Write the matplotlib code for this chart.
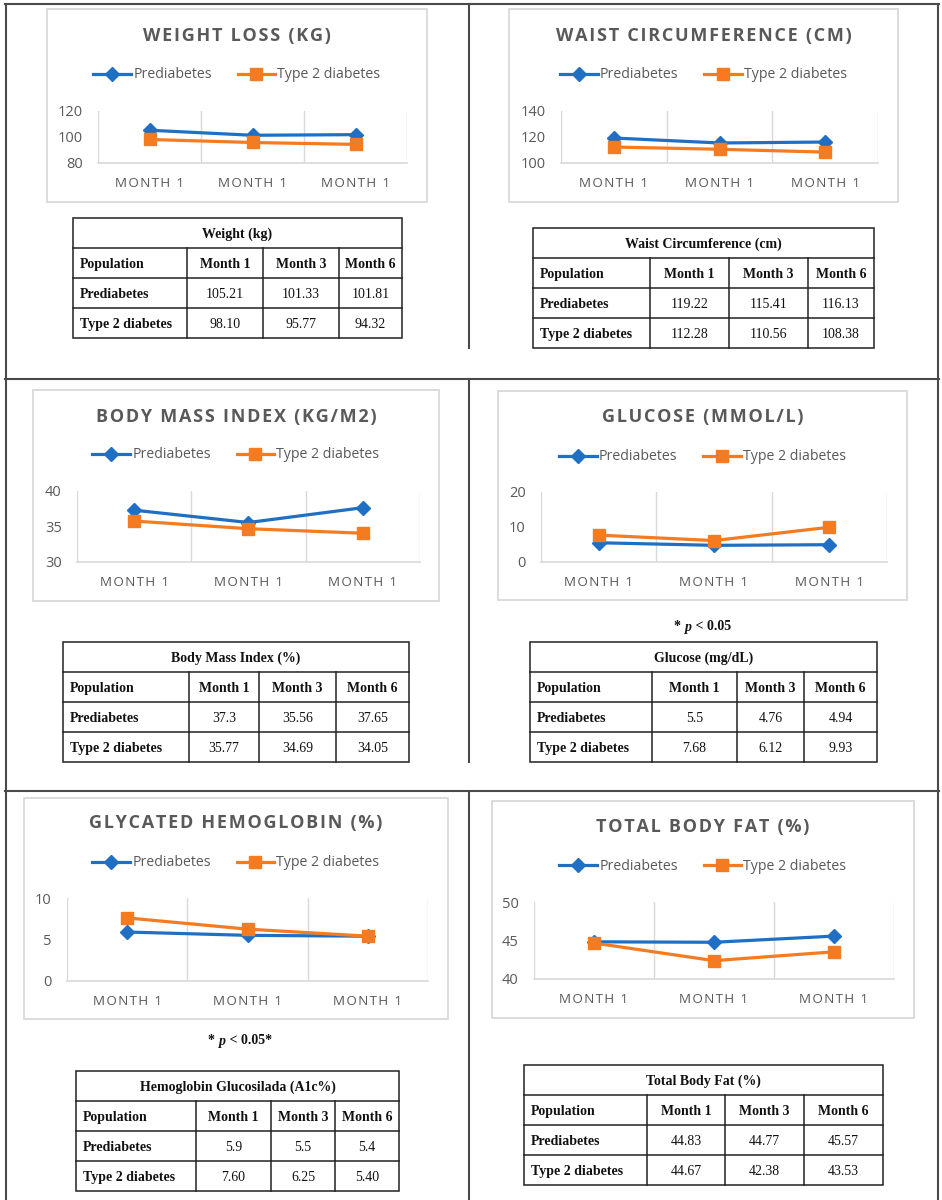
import matplotlib
matplotlib.use("Agg")
import matplotlib.pyplot as plt
from matplotlib.patches import Rectangle

# ---------------- data ----------------
months = ["Month 1", "Month 3", "Month 6"]
axis_labels = ["MONTH 1", "MONTH 1", "MONTH 1"]
series_names = ["Prediabetes", "Type 2 diabetes"]

chart_titles = ["WEIGHT LOSS (KG)", "WAIST CIRCUMFERENCE (CM)", "BODY MASS INDEX (KG/M2)",
                "GLUCOSE (MMOL/L)", "GLYCATED HEMOGLOBIN (%)", "TOTAL BODY FAT (%)"]
table_titles = ["Weight (kg)", "Waist Circumference (cm)", "Body Mass Index (%)",
                "Glucose (mg/dL)", "Hemoglobin Glucosilada (A1c%)", "Total Body Fat (%)"]

weight_pre = ["105.21", "101.33", "101.81"]
weight_t2 = ["98.10", "95.77", "94.32"]
waist_pre = ["119.22", "115.41", "116.13"]
waist_t2 = ["112.28", "110.56", "108.38"]
bmi_pre = ["37.3", "35.56", "37.65"]
bmi_t2 = ["35.77", "34.69", "34.05"]
glucose_pre = ["5.5", "4.76", "4.94"]
glucose_t2 = ["7.68", "6.12", "9.93"]
hba1c_pre = ["5.9", "5.5", "5.4"]
hba1c_t2 = ["7.60", "6.25", "5.40"]
fat_pre = ["44.83", "44.77", "45.57"]
fat_t2 = ["44.67", "42.38", "43.53"]

weight_yticks = [80, 100, 120]
waist_yticks = [100, 120, 140]
bmi_yticks = [30, 35, 40]
glucose_yticks = [0, 10, 20]
hba1c_yticks = [0, 5, 10]
fat_yticks = [40, 45, 50]

notes = [None, None, None, "* p < 0.05", "* p < 0.05*", None]

# ---------------- layout (pixels) ----------------
W, H = 942, 1200
fig = plt.figure(figsize=(W / 100, H / 100), dpi=100)
ov = fig.add_axes([0, 0, 1, 1])
ov.set_xlim(0, W)
ov.set_ylim(H, 0)
ov.axis("off")

BLUE = "#1F6FC4"
ORANGE = "#F47B20"
GRAY_TXT = "#595959"
GRID = "#D9D9D9"
SANS = ["Open Sans", "DejaVu Sans"]
SERIF = ["Liberation Serif", "DejaVu Serif"]


def spaced(s, sp="\u200a"):
    return sp.join(s)


# outer frame lines
bc = "#4a4a4a"
blw = 1.5
ov.plot([5, 939], [4, 4], color=bc, lw=blw)
ov.plot([6, 6], [4, 1200], color=bc, lw=blw)
ov.plot([938, 938], [4, 1200], color=bc, lw=blw)
ov.plot([5, 939], [379, 379], color=bc, lw=blw)
ov.plot([5, 939], [791, 791], color=bc, lw=blw)
for y0, y1 in [(4, 348), (379, 762), (791, 1200)]:
    ov.plot([469, 469], [y0, y1], color=bc, lw=blw)

layouts = [
    dict(frame=(47, 9, 427, 202), plot=(98, 111, 407, 163), title_y=36, legend_y=75,
         table=(73, 218, 402, 338), cols=(187, 263, 339), note_y=None),
    dict(frame=(509, 9, 898, 202), plot=(561, 111, 878, 163), title_y=36, legend_y=75,
         table=(533, 228, 874, 348), cols=(650, 729, 808), note_y=None),
    dict(frame=(33, 390, 439, 601), plot=(77, 491, 420, 562), title_y=417, legend_y=455,
         table=(63, 642, 409, 762), cols=(189, 259, 336), note_y=None),
    dict(frame=(498, 391, 907, 600), plot=(541, 492, 887, 562), title_y=417, legend_y=457,
         table=(530, 642, 877, 762), cols=(652, 737, 804), note_y=627),
    dict(frame=(24, 798, 448, 1019), plot=(67, 898, 428, 981), title_y=823, legend_y=863,
         table=(76, 1071, 399, 1191), cols=(196, 271, 335), note_y=1041),
    dict(frame=(492, 801, 914, 1018), plot=(534, 902, 894, 979), title_y=827, legend_y=866,
         table=(524, 1065, 883, 1185), cols=(647, 725, 804), note_y=None),
]

pre_data = [weight_pre, waist_pre, bmi_pre, glucose_pre, hba1c_pre, fat_pre]
t2_data = [weight_t2, waist_t2, bmi_t2, glucose_t2, hba1c_t2, fat_t2]
yticks_all = [weight_yticks, waist_yticks, bmi_yticks, glucose_yticks, hba1c_yticks, fat_yticks]

TFS = 10


def draw_table(L, T, R, B, cols, title, pre, t2):
    lc = "#222222"
    lw = 1.1
    rows = 4
    rh = (B - T) / rows
    ys = [T + i * rh for i in range(rows + 1)]
    ov.add_patch(Rectangle((L, T), R - L, B - T, fill=False, edgecolor=lc, lw=lw))
    for y in ys[1:-1]:
        ov.plot([L, R], [y, y], color=lc, lw=lw)
    for c in cols:
        ov.plot([c, c], [ys[1], B], color=lc, lw=lw)
    ov.text((L + R) / 2, (ys[0] + ys[1]) / 2, title, ha="center", va="center_baseline",
            fontsize=TFS, fontweight="bold", family=SERIF, color="#111")
    xs = [L] + list(cols) + [R]
    row_labels = ["Population", series_names[0], series_names[1]]
    row_vals = [months, pre, t2]
    for r in range(3):
        yc = (ys[r + 1] + ys[r + 2]) / 2
        ov.text(L + 7, yc, row_labels[r], ha="left", va="center_baseline", fontsize=TFS,
                fontweight="bold", family=SERIF, color="#111")
        for j in range(3):
            xc = (xs[j + 1] + xs[j + 2]) / 2
            ov.text(xc, yc, row_vals[r][j], ha="center", va="center_baseline", fontsize=TFS,
                    fontweight="bold" if r == 0 else "normal", family=SERIF, color="#111")


def draw_note(xc, y, text):
    star_part, rest = text.split("p", 1)
    t1 = ov.text(xc - 28, y, star_part, ha="left", va="center", fontsize=TFS,
                 fontweight="bold", family=SERIF, color="#111")
    t2 = ov.annotate("p", xy=(1, 0), xycoords=t1, ha="left", va="bottom", fontsize=TFS,
                     fontweight="bold", fontstyle="italic", family=SERIF, color="#111")
    ov.annotate(rest, xy=(1, 0), xycoords=t2, ha="left", va="bottom", fontsize=TFS,
                fontweight="bold", family=SERIF, color="#111")


for i, lay in enumerate(layouts):
    fl, ft, fr, fb = lay["frame"]
    ov.add_patch(Rectangle((fl, ft), fr - fl, fb - ft, fill=False, edgecolor="#D9D9D9", lw=1.3))
    cx = (fl + fr) / 2
    ov.text(cx, lay["title_y"], spaced(chart_titles[i]), ha="center", va="center",
            fontsize=13, fontweight="bold", family=SANS, color=GRAY_TXT)

    pl, pt, pr, pb = lay["plot"]
    ax = fig.add_axes([pl / W, 1 - pb / H, (pr - pl) / W, (pb - pt) / H])
    ax.patch.set_alpha(0)
    x = list(range(len(months)))
    pre_vals = [float(v) for v in pre_data[i]]
    t2_vals = [float(v) for v in t2_data[i]]
    l1, = ax.plot(x, pre_vals, color=BLUE, lw=2.3, marker="D", markersize=7.5,
                  label=series_names[0], zorder=3)
    l2, = ax.plot(x, t2_vals, color=ORANGE, lw=2.3, marker="s", markersize=8.5,
                  label=series_names[1], zorder=3)
    yt = yticks_all[i]
    ax.set_ylim(yt[0], yt[-1])
    ax.set_yticks(yt)
    ax.set_xlim(-0.5, len(months) - 0.5)
    ax.set_xticks(x)
    ax.set_xticklabels([spaced(s) for s in axis_labels])
    ax.set_xticks([k - 0.5 for k in range(len(months) + 1)], minor=True)
    ax.grid(True, which="minor", axis="x", color=GRID, lw=1.0)
    ax.grid(False, which="major")
    for s in ["top", "right", "left"]:
        ax.spines[s].set_visible(False)
    ax.spines["bottom"].set_color(GRID)
    ax.spines["bottom"].set_linewidth(1.2)
    ax.tick_params(axis="both", which="both", length=0)
    ax.tick_params(axis="y", pad=11, labelsize=10.5, labelcolor=GRAY_TXT)
    ax.tick_params(axis="x", pad=10, labelsize=9.6, labelcolor=GRAY_TXT)
    for lab in ax.get_xticklabels() + ax.get_yticklabels():
        lab.set_family(SANS)

    leg = ax.legend(handles=[l1, l2], loc="center", ncol=2, frameon=False,
                    bbox_to_anchor=(cx / W, 1 - lay["legend_y"] / H),
                    bbox_transform=fig.transFigure, handlelength=2.67,
                    handletextpad=0.15, columnspacing=1.8, numpoints=1,
                    prop={"family": SANS, "size": 10.2}, borderaxespad=0)
    for t in leg.get_texts():
        t.set_color(GRAY_TXT)

    draw_table(*lay["table"], lay["cols"], table_titles[i], pre_data[i], t2_data[i])
    if notes[i] and lay["note_y"]:
        draw_note(cx, lay["note_y"], notes[i])

fig.savefig("out.png", dpi=100)
